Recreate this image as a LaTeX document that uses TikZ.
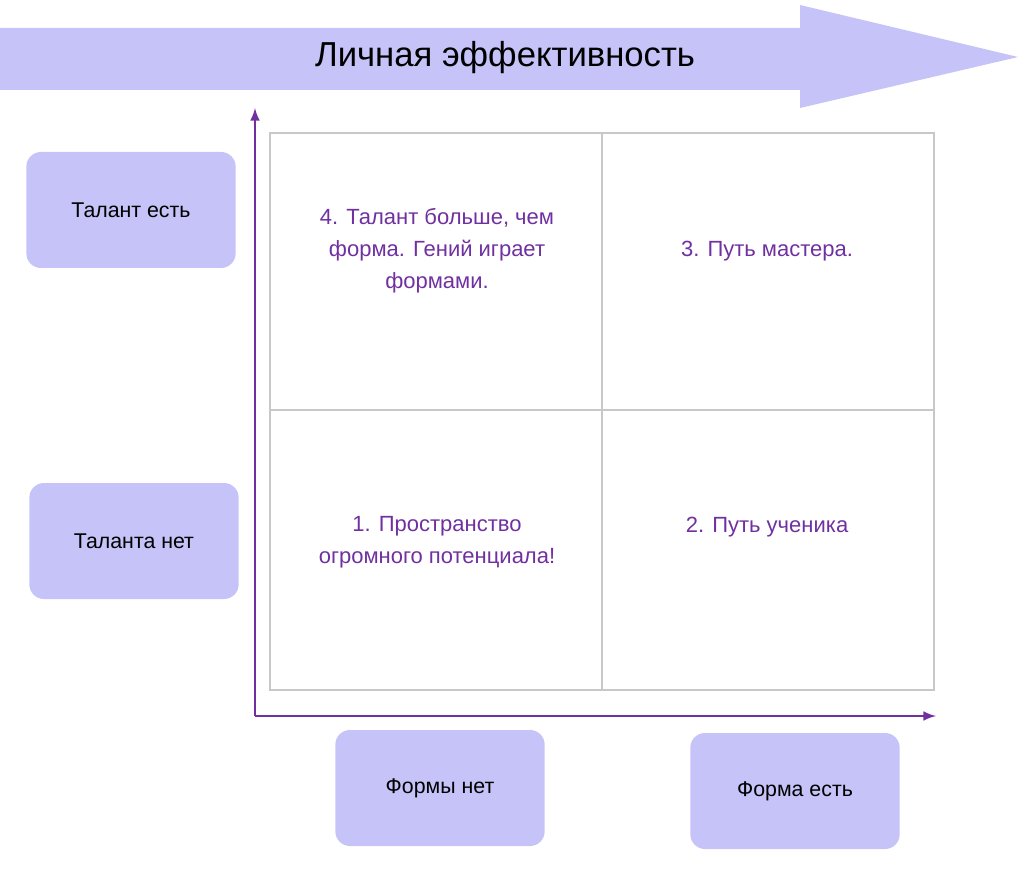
\documentclass[tikz,border=0pt]{standalone}
\usepackage{fontspec}
\setmainfont{Liberation Sans}
\usetikzlibrary{positioning}
\definecolor{lavender}{HTML}{C5C3F7}
\definecolor{plum}{HTML}{7030A0}
\definecolor{gridgray}{HTML}{C8C8C8}

\begin{document}
\begin{tikzpicture}[x=0.75pt,y=-0.75pt]
	\tikzset{label box/.style={fill=lavender,rounded corners=11pt,minimum width=157pt,minimum height=87pt,font=\fontsize{16}{19}\selectfont},
		cell text/.style={text=plum,align=center,font=\fontsize{16.5}{24}\selectfont},
		axis/.style={draw=plum,line width=2.2pt,-latex}}
	\useasboundingbox (0,0) rectangle (1024,880);

	%% Banner arrow
	\fill[lavender] (0,28) -- (800,28) -- (800,5) -- (1018,57) -- (800,108) -- (800,90) -- (0,90) -- cycle;
	\node[font=\fontsize{26}{30}\selectfont] (title) at (505,58) {Личная эффективность};

	%% Grid
	\draw[gridgray,line width=1.2pt] (270,133) rectangle (934,690);
	\draw[gridgray,line width=1.2pt] (602,133) -- (602,690) (270,410) -- (934,410);

	%% Axes
	\coordinate (origin) at (255,716);
	\coordinate (ytip) at (255,108);
	\coordinate (xtip) at (936,716);
	\draw[axis] (origin) -- (ytip);
	\draw[axis] (origin) -- (xtip);

	%% Cells
	\node[cell text] (c4) at (437,251) {4. Талант больше, чем\\форма. Гений играет\\формами.};
	\node[cell text] (c3) at (767,251) {3. Путь мастера.};
	\node[cell text] (c1) at (437,542) {1. Пространство\\огромного потенциала!};
	\node[cell text] (c2) at (767,527) {2. Путь ученика};

	%% Labels
	\node[label box] (talyes) at (131,210) {Талант есть};
	\node[label box] (talno) at (134,541) {Таланта нет};
	\node[label box] (formno) at (440,788) {Формы нет};
	\node[label box] (formyes) at (795,791) {Форма есть};
\end{tikzpicture}
\end{document}
